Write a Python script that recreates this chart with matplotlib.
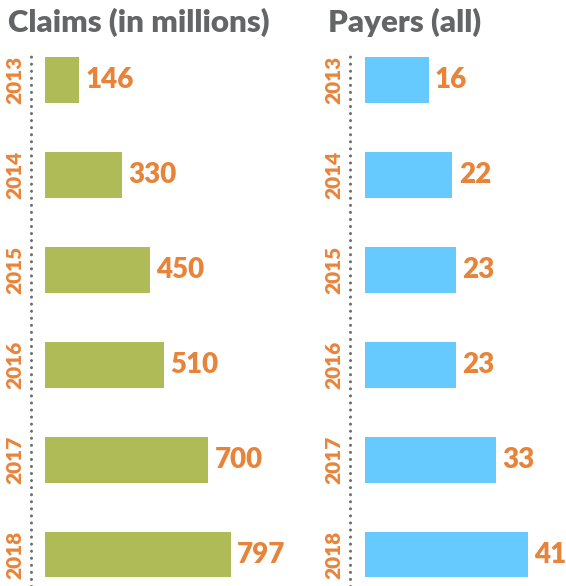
import matplotlib.pyplot as plt

years = ['2013', '2014', '2015', '2016', '2017', '2018']
claims = [146, 330, 450, 510, 700, 797]
payers = [16, 22, 23, 23, 33, 41]

GREEN = '#afbb56'
BLUE = '#66caff'
ORANGE = '#e8843a'
GRAY = '#646567'

plt.rcParams['font.family'] = ['Lato', 'DejaVu Sans']

W, H = 566, 586
fig = plt.figure(figsize=(W / 100, H / 100), dpi=100)


def px_axes(left, top, width, height):
    # axes placed in pixel coordinates measured from the top left
    return fig.add_axes([left / W, 1 - (top + height) / H, width / W, height / H])


def panel(ax, values, color, xmin, xmax):
    ypos = list(range(len(values)))
    ax.barh(ypos, values, height=0.48, color=color)
    ax.set_xlim(xmin, xmax)
    ax.set_ylim(5.33, -0.5)
    for y, v in zip(ypos, values):
        ax.annotate(str(v), (v, y), xytext=(4.5, 0), textcoords='offset points',
                    va='center', ha='left', fontsize=20, fontweight='heavy', color=ORANGE)
    ax.set_yticks(ypos)
    ax.set_yticklabels(years, rotation=90, va='center', fontsize=15,
                       fontweight='heavy', color=ORANGE)
    ax.tick_params(axis='y', length=0, pad=5)
    ax.set_xticks([])
    for s in ['top', 'right', 'bottom']:
        ax.spines[s].set_visible(False)
    sp = ax.spines['left']
    sp.set_linestyle((0, (0.01, 2.3)))
    sp.set_capstyle('round')
    sp.set_linewidth(2.2)
    sp.set_color('#6d6e70')
    sp.set_bounds(5.33, -0.25)


ax1 = px_axes(31, 32.5, 300, 553.5)
panel(ax1, claims, GREEN, -60, 1225)

ax2 = px_axes(350, 32.5, 216, 553.5)
panel(ax2, payers, BLUE, -3.77, 50.6)

fig.text(8 / W, 1 - 32 / H, 'Claims (in millions)', fontsize=22.5, fontweight='heavy',
         color=GRAY, va='baseline', ha='left')
fig.text(328 / W, 1 - 32 / H, 'Payers (all)', fontsize=22.5, fontweight='heavy',
         color=GRAY, va='baseline', ha='left')

fig.savefig('out.png', dpi=100)
